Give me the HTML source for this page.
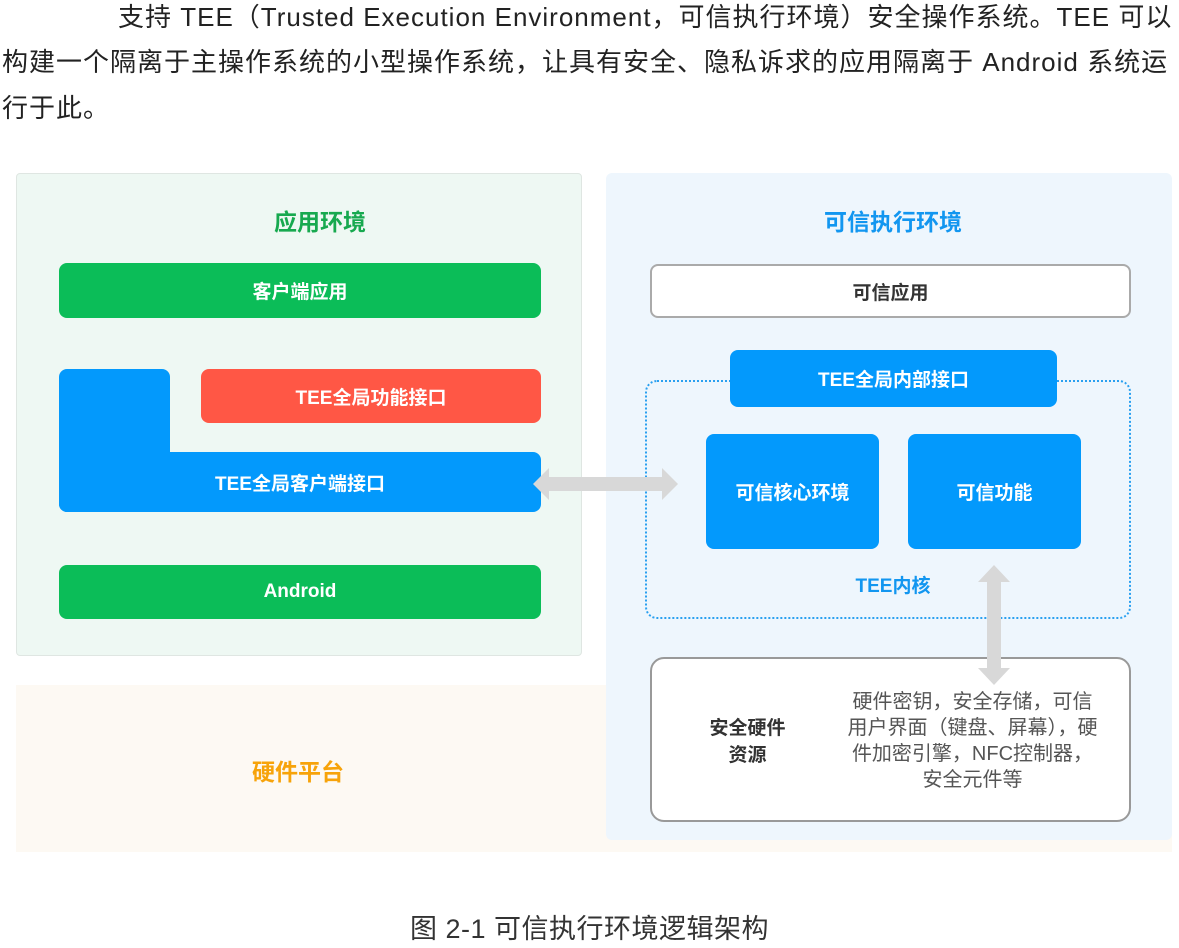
<!DOCTYPE html>
<html><head><meta charset="utf-8"><style>
body{margin:0;width:1179px;height:948px;background:#fff;position:relative;overflow:hidden;font-family:"Liberation Sans","Noto Sans CJK SC",sans-serif}
.a{position:absolute;box-sizing:border-box}
.c{display:flex;align-items:center;justify-content:center;color:#fff;font-size:19px;font-weight:bold}
.t{position:absolute;font-size:26px;letter-spacing:1px;color:#222;white-space:nowrap;line-height:1}
</style></head><body>
<div class="t" style="left:118px;top:4px">支持 TEE（Trusted Execution Environment，可信执行环境）安全操作系统。TEE 可以</div>
<div class="t" style="left:2px;top:49px">构建一个隔离于主操作系统的小型操作系统，让具有安全、隐私诉求的应用隔离于 Android 系统运</div>
<div class="t" style="left:2px;top:95px">行于此。</div>

<div class="a" style="left:16px;top:685px;width:1156px;height:167px;background:#fdf9f3"></div>
<div class="a" style="left:16px;top:173px;width:566px;height:483px;background:#eef8f3;border:1px solid #dfe6e2;border-radius:4px"></div>
<div class="a" style="left:606px;top:173px;width:566px;height:667px;background:#eef6fd;border-radius:6px"></div>

<div class="a c" style="left:200px;top:204px;width:240px;height:32px;color:#17a94f;font-size:23px">应用环境</div>
<div class="a c" style="left:59px;top:263px;width:482px;height:55px;background:#0bbd58;border-radius:8px">客户端应用</div>
<div class="a" style="left:59px;top:369px;width:111px;height:143px;background:#0399fc;border-radius:8px"></div>
<div class="a c" style="left:59px;top:452px;width:482px;height:60px;background:#0399fc;border-radius:0 8px 8px 8px">TEE全局客户端接口</div>
<div class="a c" style="left:201px;top:369px;width:340px;height:54px;background:#ff5745;border-radius:8px">TEE全局功能接口</div>
<div class="a c" style="left:59px;top:565px;width:482px;height:54px;background:#0bbd58;border-radius:8px">Android</div>
<div class="a c" style="left:148px;top:754px;width:300px;height:32px;color:#f7a30a;font-size:23px">硬件平台</div>

<div class="a c" style="left:773px;top:204px;width:240px;height:32px;color:#1296f0;font-size:23px">可信执行环境</div>
<div class="a c" style="left:650px;top:264px;width:481px;height:54px;background:#fff;border:2px solid #aaa;border-radius:8px;color:#333">可信应用</div>
<div class="a" style="left:645px;top:380px;width:486px;height:239px;border:2px dotted #2aa0f0;border-radius:12px"></div>
<div class="a c" style="left:730px;top:350px;width:327px;height:57px;background:#0399fc;border-radius:8px">TEE全局内部接口</div>
<div class="a c" style="left:706px;top:434px;width:173px;height:115px;background:#0399fc;border-radius:8px">可信核心环境</div>
<div class="a c" style="left:908px;top:434px;width:173px;height:115px;background:#0399fc;border-radius:8px">可信功能</div>
<div class="a c" style="left:793px;top:570px;width:200px;height:28px;color:#1296f0">TEE内核</div>
<div class="a" style="left:650px;top:657px;width:481px;height:165px;background:#fff;border:2px solid #999;border-radius:14px"></div>
<div class="a c" style="left:690px;top:712px;width:115px;height:60px;color:#333;flex-direction:column;line-height:27px;text-align:center">安全硬件<br>资源</div>
<div class="a" style="left:820px;top:689px;width:305px;text-align:center;color:#555;font-size:20px;line-height:26px">硬件密钥，安全存储，可信<br>用户界面（键盘、屏幕），硬<br>件加密引擎，NFC控制器，<br>安全元件等</div>

<svg class="a" style="left:0;top:0" width="1179" height="948">
<polygon fill="#d8d8d8" points="533,484 549,468 549,477 662,477 662,468 678,484 662,500 662,491 549,491 549,500"/>
<polygon fill="#d8d8d8" points="994,565 1010,582 1001,582 1001,668 1010,668 994,685 978,668 987,668 987,582 978,582"/>
</svg>

<div class="t" style="left:0;width:1179px;text-align:center;top:916px;color:#333;font-size:27px;letter-spacing:0.5px">图 2-1 可信执行环境逻辑架构</div>
</body></html>
